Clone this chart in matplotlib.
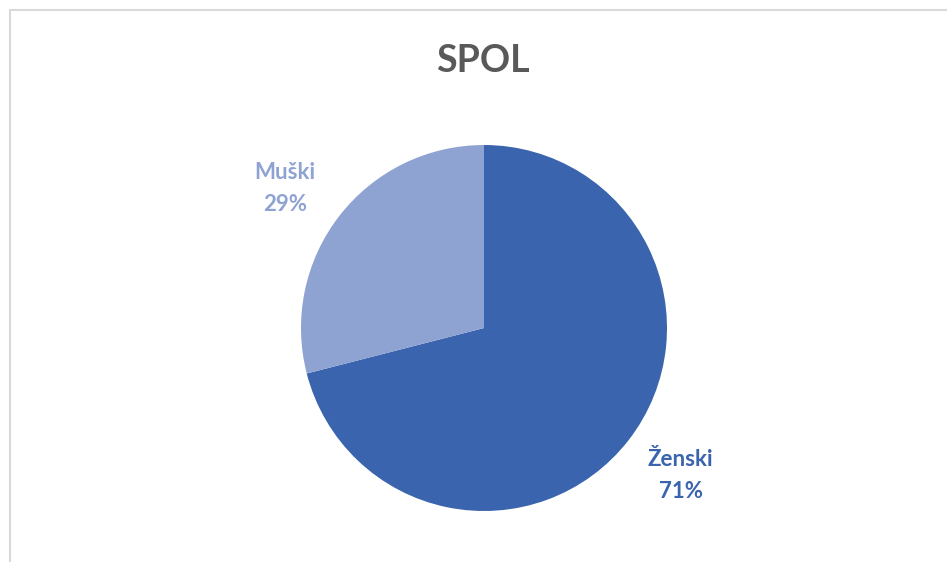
import matplotlib
matplotlib.use("Agg")
import matplotlib.pyplot as plt
from matplotlib.patches import Rectangle

categories = ["Ženski", "Muški"]
values = [71, 29]
colors = ["#3A64AD", "#8FA3D3"]
title = "SPOL"

plt.rcParams['font.family'] = ['Lato', 'DejaVu Sans']

W, H = 947, 562
fig = plt.figure(figsize=(W / 100, H / 100), dpi=100)
fig.patch.set_facecolor("white")

# light frame (top and left edges visible)
fig.add_artist(Rectangle((10 / W, -0.1), 1.2, 1 - 10 / H + 0.1, transform=fig.transFigure,
                         fill=False, edgecolor="#D9D9D9", linewidth=1.5))

cx, cy, r = 484, 328, 183
ax = fig.add_axes([(cx - r) / W, 1 - (cy + r) / H, 2 * r / W, 2 * r / H])
wedges, texts = ax.pie(values, labels=categories, colors=colors, startangle=90,
                       counterclock=False, labeldistance=1.34,
                       wedgeprops=dict(linewidth=0))
label_shift = [(0.016, 0.016), (-0.027, -0.057)]
for t, cat, v, c, (dx, dy) in zip(texts, categories, values, colors, label_shift):
    t.set_text(f"{cat}\n{v}%")
    x0, y0 = t.get_position()
    t.set_position((x0 + dx, y0 + dy))
    t.set_ha("center")
    t.set_va("center")
    t.set_color(c)
    t.set_fontsize(16)
    t.set_fontweight("bold")
    t.set_linespacing(1.65)
ax.set_xlim(-1, 1)
ax.set_ylim(-1, 1)
ax.set_aspect("equal")
ax.axis("off")

fig.text(483 / W, 1 - 61 / H, title, ha="center", va="center", fontsize=27,
         fontweight="bold", color="#595959")

fig.savefig("out.png", dpi=100)
